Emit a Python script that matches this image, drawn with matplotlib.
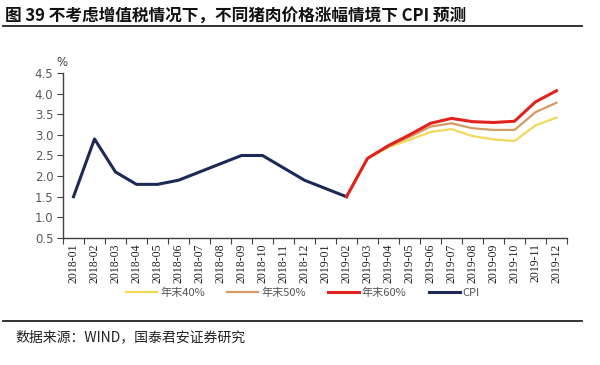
import matplotlib
matplotlib.use('Agg')
from matplotlib import pyplot as plt
from matplotlib.lines import Line2D
import numpy as np

plt.rcParams['font.family'] = ['Noto Sans CJK SC', 'DejaVu Sans']

# months on the category axis
months = ['2018-01', '2018-02', '2018-03', '2018-04', '2018-05', '2018-06',
          '2018-07', '2018-08', '2018-09', '2018-10', '2018-11', '2018-12',
          '2019-01', '2019-02', '2019-03', '2019-04', '2019-05', '2019-06',
          '2019-07', '2019-08', '2019-09', '2019-10', '2019-11', '2019-12']

# actual CPI, 2018-01 .. 2019-02
cpi = [1.5, 2.9, 2.1, 1.8, 1.8, 1.9, 2.1, 2.3, 2.5, 2.5, 2.2, 1.9, 1.7, 1.5]

# forecasts, 2019-02 .. 2019-12
fc_months = months[13:]
pork40 = [1.5, 2.43, 2.70, 2.88, 3.07, 3.14, 2.97, 2.89, 2.85, 3.23, 3.42]
pork50 = [1.5, 2.43, 2.72, 2.95, 3.20, 3.28, 3.16, 3.12, 3.12, 3.55, 3.78]
pork60 = [1.5, 2.43, 2.74, 3.00, 3.28, 3.40, 3.32, 3.30, 3.33, 3.80, 4.07]

yticks = [0.5, 1.0, 1.5, 2.0, 2.5, 3.0, 3.5, 4.0, 4.5]

c40 = '#f3d95a'
c50 = '#d59a64'
c60 = '#e0231d'
ccpi = '#1c2a55'

fig = plt.figure(figsize=(6, 3.65), dpi=100)
ax = fig.add_axes([0.105, 0.348, 0.84, 0.452])

x_all = np.arange(len(months))
x_cpi = x_all[:len(cpi)]
x_fc = x_all[13:]

ax.plot(x_cpi, cpi, color=ccpi, lw=2.2, solid_joinstyle='round', zorder=3)
ax.plot(x_fc, pork40, color=c40, lw=1.6, zorder=4)
ax.plot(x_fc, pork50, color=c50, lw=1.6, zorder=5)
ax.plot(x_fc, pork60, color=c60, lw=2.2, zorder=6)

ax.set_xlim(-0.5, len(months) - 0.5)
ax.set_ylim(0.5, 4.5)
ax.set_yticks(yticks)
ax.set_yticklabels(['%.1f' % v for v in yticks], fontsize=8.5, color='#595959',
                   family=['DejaVu Sans'])

# ticks on category boundaries, labels in the middle
ax.set_xticks(np.arange(-0.5, len(months), 1.0))
ax.set_xticklabels([])
ax.set_xticks(x_all, minor=True)
ax.set_xticklabels(months, minor=True, rotation=90, fontsize=8.5,
                   family=['Liberation Serif'], color='#222222')
ax.tick_params(axis='x', which='minor', length=0, pad=4)
ax.tick_params(axis='x', which='major', length=4, direction='out', color='#404040')
ax.tick_params(axis='y', length=4, direction='out', color='#404040', pad=3)

for s in ['top', 'right']:
    ax.spines[s].set_visible(False)
for s in ['left', 'bottom']:
    ax.spines[s].set_color('#404040')
    ax.spines[s].set_linewidth(1.0)

fig.text(0.094, 0.818, '%', fontsize=8.5, color='#404040', family=['DejaVu Sans'])

handles = [Line2D([], [], color=c40, lw=1.6),
           Line2D([], [], color=c50, lw=1.6),
           Line2D([], [], color=c60, lw=2.2),
           Line2D([], [], color=ccpi, lw=2.2)]
labels = ['年末40%', '年末50%', '年末60%', 'CPI']
leg = fig.legend(handles, labels, loc='center', bbox_to_anchor=(0.505, 0.197),
                 ncol=4, frameon=False, fontsize=8, handlelength=2.8,
                 handletextpad=0.25, columnspacing=2.0)
for t in leg.get_texts():
    t.set_color('#555555')

# title and rules
fig.text(0.008, 0.955, '图 39 不考虑增值税情况下，不同猪肉价格涨幅情境下 CPI 预测',
         fontsize=12, fontweight='bold', va='center', color='#111111')
fig.add_artist(Line2D([0.005, 0.97], [0.929, 0.929], color='#222222', lw=1.3))
fig.add_artist(Line2D([0.005, 0.97], [0.12, 0.12], color='#222222', lw=1.3))
fig.text(0.025, 0.077, '数据来源：WIND，国泰君安证券研究', fontsize=10,
         va='center', color='#222222')

fig.savefig('out.png', dpi=100)
